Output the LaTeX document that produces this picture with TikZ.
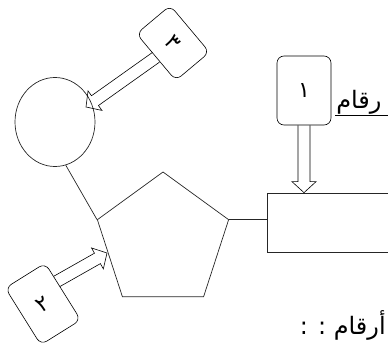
\documentclass[tikz,border=0pt]{standalone}
\usepackage{fontspec}
\usetikzlibrary{shapes.geometric,calc}
\newfontfamily\arabicfont[Script=Arabic]{DejaVu Sans}
\TeXXeTstate=1
\begin{document}
\begin{tikzpicture}[x=1pt,y=-1pt,
  line width=0.6pt,
  numbox/.style={draw, rounded corners=7pt, inner sep=0pt,
    font=\arabicfont\fontsize{22}{22}\selectfont},
  shapeline/.style={draw=black!85, line width=0.7pt},
  blockarrow/.style={draw, line join=miter, to path={
     ($(\tikztostart)!6pt!90:(\tikztotarget)$) --
     ($(\tikztotarget)!11pt!(\tikztostart)!6pt!-90:(\tikztostart)$) --
     ($(\tikztotarget)!11pt!(\tikztostart)!12pt!-90:(\tikztostart)$) --
     (\tikztotarget) --
     ($(\tikztotarget)!11pt!(\tikztostart)!12pt!90:(\tikztostart)$) --
     ($(\tikztotarget)!11pt!(\tikztostart)!6pt!90:(\tikztostart)$) --
     ($(\tikztostart)!6pt!-90:(\tikztotarget)$)}},
  arlabel/.style={inner sep=0pt, font=\arabicfont\fontsize{24}{24}\selectfont}
]
\useasboundingbox (0,0) rectangle (388,345);
\clip (0,0) rectangle (388,345);

% shapes
\node[ellipse, shapeline, minimum width=80pt, minimum height=89pt, inner sep=0pt] (c) at (55,122) {};
\node[regular polygon, regular polygon sides=5, shapeline, minimum size=138pt, inner sep=0pt] (p) at (163,241) {};
\node[rectangle, shapeline, minimum width=133pt, minimum height=59pt, inner sep=0pt] (r) at (333.5,222.5) {};

% number boxes
\node[numbox, minimum width=54pt, minimum height=69pt] (b1) at (304,90.5) {\beginR ١\endR};
\node[numbox, rotate=-50, minimum width=61pt, minimum height=44pt] (b3) at (173,43) {\beginR ٣\endR};
\node[numbox, rotate=32, minimum width=47pt, minimum height=67pt] (b2) at (43,304) {\beginR ٢\endR};

% connectors
\draw[shapeline] (c.-76) -- (p.corner 2);
\draw[shapeline] (p.corner 5) -- (p.corner 5 -| r.west);

\coordinate (t1) at (b1.south |- r.north);
\coordinate (t3) at (86,107);
\coordinate (t2) at (107,253);
\coordinate (s2) at ($(b2.east)!0.35!(b2.north east)$);
\draw[blockarrow] (b1.south) to (t1);
\draw[blockarrow] (b3.south) to (t3);
\draw[blockarrow] (s2) to (t2);

% labels
\node[arlabel, anchor=base west] (lab1) at (336,108) {\beginR رقام\endR};
\draw[line width=0.8pt] (335,115) coordinate (u1) -- (u1 -| 388,0);
\node[arlabel, anchor=base east] (lab2) at (386,334) {\beginR أرقام : :\endR};
\end{tikzpicture}
\end{document}
